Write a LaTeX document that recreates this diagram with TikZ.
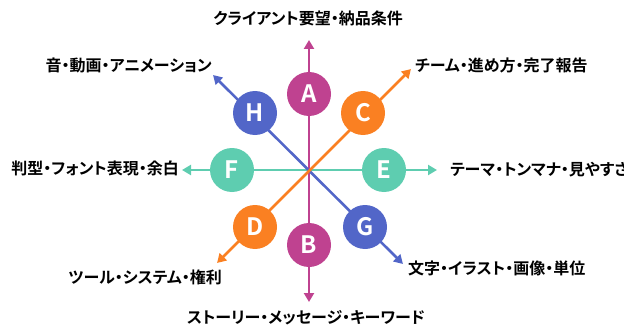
\documentclass[tikz,border=0pt]{standalone}
\usepackage{fontspec}
\setmainfont{Noto Sans CJK JP Bold}[RawFeature=+palt]
\usetikzlibrary{arrows.meta, positioning}
\definecolor{axMagenta}{HTML}{BF4290}
\definecolor{axOrange}{HTML}{FA8022}
\definecolor{axTeal}{HTML}{5ECDB0}
\definecolor{axBlue}{HTML}{5266C8}

\begin{document}
\begin{tikzpicture}[x=1pt, y=-1pt,
    axis/.style={line width=2.6pt, {Triangle[length=9pt,width=10pt]}-{Triangle[length=9pt,width=10pt]}},
    badge/.style={circle, minimum size=44pt, inner sep=0pt, text=white,
      font=\fontsize{24}{24}\selectfont},
    lbl/.style={font=\fontsize{16}{16}\selectfont, text=black, inner sep=1pt}]
    \useasboundingbox (0,0) rectangle (624,329);
    % arrow ends
    \coordinate (tA) at (309,40);
    \coordinate (tB) at (309,302);
    \coordinate (tC) at (411,69);
    \coordinate (tD) at (217,263);
    \coordinate (tE) at (437,170);
    \coordinate (tF) at (182,170);
    \coordinate (tG) at (403,264);
    \coordinate (tH) at (213,75);
    % axes
    \draw[axis, axMagenta] (tB) -- (tA);
    \draw[axis, axTeal] (tF) -- (tE);
    \draw[axis, axBlue] (tH) -- (tG);
    \draw[axis, axOrange] (tD) -- (tC);
    % badges
    \node[badge, fill=axMagenta] (a) at (309,94) {A};
    \node[badge, fill=axMagenta] (b) at (309,245) {B};
    \node[badge, fill=axOrange] (c) at (363,113) {C};
    \node[badge, fill=axOrange] (d) at (255,227) {D};
    \node[badge, fill=axTeal] (e) at (384,170) {E};
    \node[badge, fill=axTeal] (f) at (232,170) {F};
    \node[badge, fill=axBlue] (g) at (365,227) {G};
    \node[badge, fill=axBlue] (h) at (255,113) {H};
    % labels
    \node[lbl] (la) at (308,18) {クライアント要望・納品条件};
    \node[lbl] (lb) at (306,318) {ストーリー・メッセージ・キーワード};
    \node[lbl, anchor=west] (lc) at (414,65) {チーム・進め方・完了報告};
    \node[lbl, anchor=east] (ld) at (223,277) {ツール・システム・権利};
    \node[lbl, anchor=west] (le) at (449,170) {テーマ・トンマナ・見やすさ};
    \node[lbl, anchor=east] (lf) at (180,168) {判型・フォント表現・余白};
    \node[lbl, anchor=west] (lg) at (407,268) {文字・イラスト・画像・単位};
    \node[lbl, anchor=east] (lh) at (213,65) {音・動画・アニメーション};
\end{tikzpicture}
\end{document}
